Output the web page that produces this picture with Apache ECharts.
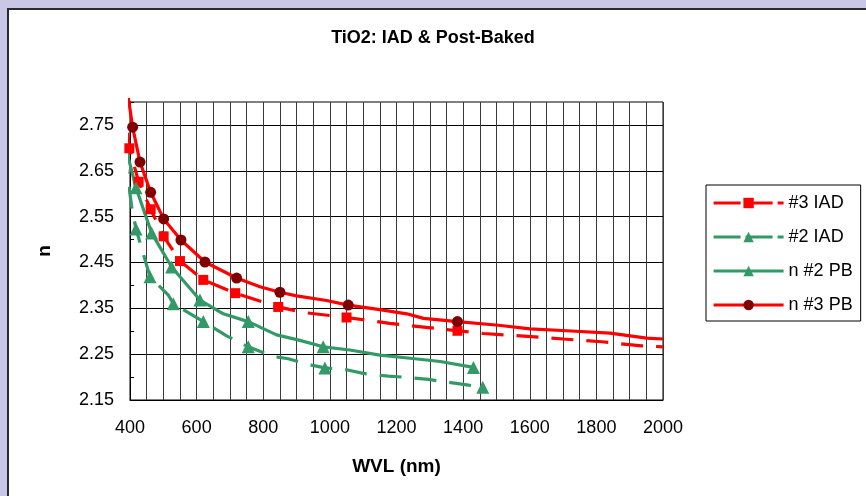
<!DOCTYPE html>
<html>
<head>
<meta charset="utf-8">
<script src="https://cdn.jsdelivr.net/npm/echarts@6/dist/echarts.min.js"></script>
<style>
  html, body { margin: 0; padding: 0; width: 866px; height: 496px; overflow: hidden;
    background: #cac7e6; }
  #panel { position: absolute; left: 7px; top: 8px; width: 900px; height: 520px;
    background: #fff; border: 2px solid #2a2a2a; }
  #chart { position: absolute; left: 0; top: 0; width: 866px; height: 496px; }
</style>
</head>
<body>
<div id="panel"></div>
<div id="chart"></div>
<script>
// ---- chart data ----
const chartTitle = 'TiO2: IAD & Post-Baked';
const xAxisTitle = 'WVL (nm)';
const yAxisTitle = 'n';
const xMin = 400, xMax = 2000, xStep = 50, xLabelStep = 200;
const yMin = 2.15, yMax = 2.80, yStep = 0.05;
const seriesNames = ['#3 IAD', '#2 IAD', 'n #2 PB', 'n #3 PB'];

// #3 IAD : measured points (with markers)
const iad3Wvl = [398, 426, 462, 501, 550, 620, 716, 845, 1050, 1383];
const iad3N   = [2.699, 2.626, 2.566, 2.507, 2.453, 2.412, 2.383, 2.353, 2.330, 2.301];
// #3 IAD : curve points without markers
const iad3CurveWvl = [382, 920, 1180, 1296, 1461, 1571, 1701, 1816, 1936, 2000];
const iad3CurveN   = [2.809, 2.341, 2.317, 2.308, 2.295, 2.290, 2.283, 2.277, 2.268, 2.266];

// #2 IAD : measured points (with markers)
const iad2Wvl = [418, 460, 530, 620, 755, 985, 1459];
const iad2N   = [2.523, 2.419, 2.360, 2.321, 2.266, 2.220, 2.178];
// #2 IAD : curve points without markers
const iad2CurveWvl = [378, 390, 405, 515, 690, 830, 875, 945, 1050, 1100, 1175, 1220, 1296, 1341, 1411];
const iad2CurveN   = [2.690, 2.652, 2.572, 2.379, 2.290, 2.245, 2.240, 2.226, 2.216, 2.208, 2.202, 2.200, 2.195, 2.190, 2.183];

// n #2 PB : measured points (with markers)
const pb2Wvl = [418, 465, 525, 610, 755, 980, 1431];
const pb2N   = [2.613, 2.514, 2.440, 2.368, 2.321, 2.266, 2.221];
// n #2 PB : curve points without markers
const pb2CurveWvl = [379, 390, 680, 840, 910, 1060, 1150, 1241, 1331];
const pb2CurveN   = [2.810, 2.693, 2.338, 2.292, 2.280, 2.259, 2.248, 2.241, 2.234];

// n #3 PB : measured points (with markers)
const pb3Wvl = [408, 430, 462, 501, 553, 625, 720, 850, 1055, 1383];
const pb3N   = [2.745, 2.669, 2.603, 2.545, 2.499, 2.451, 2.416, 2.385, 2.357, 2.321];
// n #3 PB : curve points without markers
const pb3CurveWvl = [395, 790, 900, 990, 1150, 1231, 1281, 1506, 1601, 1711, 1841, 1951, 2000];
const pb3CurveN   = [2.809, 2.397, 2.377, 2.367, 2.347, 2.338, 2.328, 2.313, 2.305, 2.301, 2.296, 2.285, 2.283];

// ---- build ----
function combine(mx, my, cx, cy) {
  const pts = [];
  mx.forEach((x, i) => pts.push([x, my[i], 1]));
  cx.forEach((x, i) => pts.push([x, cy[i], 0]));
  pts.sort((a, b) => a[0] - b[0]);
  return pts;
}
const FONT = '"Liberation Sans", Arial, sans-serif';
const RED = '#ff0000', DARKRED = '#800000', GREEN = '#339966';

function mkSeries(name, data, color, markerColor, symbol, size, dashed) {
  return {
    name: name, type: 'line', data: data, clip: false,
    symbol: symbol,
    symbolSize: function (v) { return v[2] ? size : 0; },
    showAllSymbol: true,
    itemStyle: { color: markerColor },
    lineStyle: { color: color, width: 3.2, type: dashed ? [22, 13] : 'solid', cap: 'butt' },
    emphasis: { disabled: true },
    animation: false
  };
}

const legendDash = [27, 5];
const chart = echarts.init(document.getElementById('chart'), null, { renderer: 'canvas' });
chart.setOption({
  backgroundColor: 'transparent',
  animation: false,
  title: {
    text: chartTitle, left: 'center', top: 24,
    textStyle: { fontFamily: FONT, fontSize: 18, fontWeight: 'bold', color: '#000' }
  },
  legend: {
    orient: 'vertical', left: 706, top: 185,
    data: [
      { name: seriesNames[0], lineStyle: { type: legendDash } },
      { name: seriesNames[1], lineStyle: { type: legendDash } },
      { name: seriesNames[2] },
      { name: seriesNames[3] }
    ],
    itemWidth: 70, itemHeight: 13, itemGap: 14,
    padding: [8, 8, 6, 6],
    borderColor: '#000', borderWidth: 1,
    lineStyle: { width: 3.2 },
    textStyle: { fontFamily: FONT, fontSize: 18, color: '#000', lineHeight: 20 },
    selectedMode: false
  },
  grid: {
    left: 130, right: 203, top: 102, bottom: 96,
    show: true, borderColor: '#000', borderWidth: 1, backgroundColor: 'transparent'
  },
  xAxis: {
    type: 'value', min: xMin, max: xMax, interval: xStep,
    name: xAxisTitle, nameLocation: 'middle', nameGap: 57,
    nameTextStyle: { fontFamily: FONT, fontSize: 19, fontWeight: 'bold', color: '#000' },
    axisLine: { show: true, lineStyle: { color: '#000', width: 1 } },
    axisTick: { show: false },
    axisLabel: {
      fontFamily: FONT, fontSize: 18, color: '#000', margin: 19,
      formatter: function (v) { return (Math.round(v) % xLabelStep === 0) ? String(Math.round(v)) : ''; }
    },
    splitLine: { show: true, lineStyle: { color: '#3a3a3a', width: 1 } }
  },
  yAxis: {
    type: 'value', min: yMin, max: yMax, interval: yStep,
    name: yAxisTitle, nameLocation: 'middle', nameGap: 76,
    nameTextStyle: { fontFamily: FONT, fontSize: 19, fontWeight: 'bold', color: '#000' },
    axisLine: { show: true, lineStyle: { color: '#000', width: 1 } },
    axisTick: { show: true, inside: true, length: 4, lineStyle: { color: '#000' } },
    axisLabel: {
      fontFamily: FONT, fontSize: 18, color: '#000', margin: 16,
      formatter: function (v) { return (Math.round(v * 100) % 10 === 5) ? v.toFixed(2) : ''; }
    },
    splitLine: { show: true, lineStyle: { color: ['#000', 'rgba(0,0,0,0)'], width: 1 } }
  },
  series: [
    mkSeries(seriesNames[0], combine(iad3Wvl, iad3N, iad3CurveWvl, iad3CurveN), RED, RED, 'rect', 10, true),
    mkSeries(seriesNames[1], combine(iad2Wvl, iad2N, iad2CurveWvl, iad2CurveN), GREEN, GREEN, 'triangle', 13, true),
    mkSeries(seriesNames[2], combine(pb2Wvl, pb2N, pb2CurveWvl, pb2CurveN), GREEN, GREEN, 'triangle', 13, false),
    mkSeries(seriesNames[3], combine(pb3Wvl, pb3N, pb3CurveWvl, pb3CurveN), RED, DARKRED, 'circle', 11, false)
  ]
});
</script>
</body>
</html>
